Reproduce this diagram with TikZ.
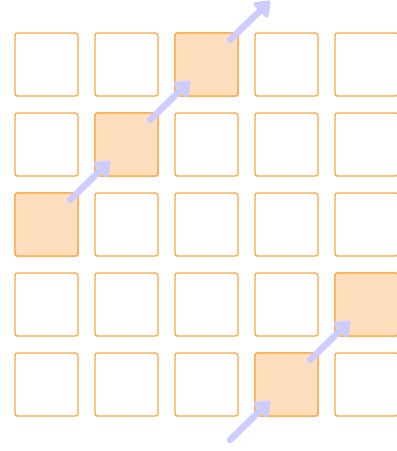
\documentclass[tikz,border=0pt]{standalone}
\usetikzlibrary{arrows.meta}
\definecolor{cellline}{HTML}{FFA43F}
\definecolor{cellfill}{HTML}{FFDEBD}
\definecolor{arrowcol}{HTML}{CCCCFF}
\tikzset{
  cell/.style={draw=cellline, line width=1.3pt, rounded corners=2.5pt, minimum size=63pt, inner sep=0pt, outer sep=0pt},
  hot/.style={cell, fill=cellfill},
  move/.style={draw=arrowcol, line width=6.5pt, line cap=round, -{Triangle[width=23pt,length=16pt,round]}}
}
\begin{document}
\begin{tikzpicture}[x=1pt,y=-1pt]
\useasboundingbox (0,0) rectangle (397,451);
\clip (0,0) rectangle (397,451);
\foreach \i in {0,...,4}{
  \foreach \j in {0,...,4}{
    \node[cell] (s\i\j) at (46.5+80*\i, 64.5+80*\j) {};
  }
}
\node[hot] (s20) at (46.5+160, 64.5) {};
\node[hot] (s11) at (46.5+80, 64.5+80) {};
\node[hot] (s02) at (46.5, 64.5+160) {};
\node[hot] (s43) at (46.5+320, 64.5+240) {};
\node[hot] (s34) at (46.5+240, 64.5+320) {};
\coordinate (top) at (270,1);
\coordinate (bot) at (230,440);
\draw[move] ([shift={(-8,7)}]s02.north east) -- ([shift={(15,-15)}]s11.south west);
\draw[move] ([shift={(-8,7)}]s11.north east) -- ([shift={(15,-15)}]s20.south west);
\draw[move] ([shift={(-8,7)}]s20.north east) -- (top);
\draw[move] (bot) -- ([shift={(15,-15)}]s34.south west);
\draw[move] ([shift={(-8,7)}]s34.north east) -- ([shift={(15,-15)}]s43.south west);
\end{tikzpicture}
\end{document}
